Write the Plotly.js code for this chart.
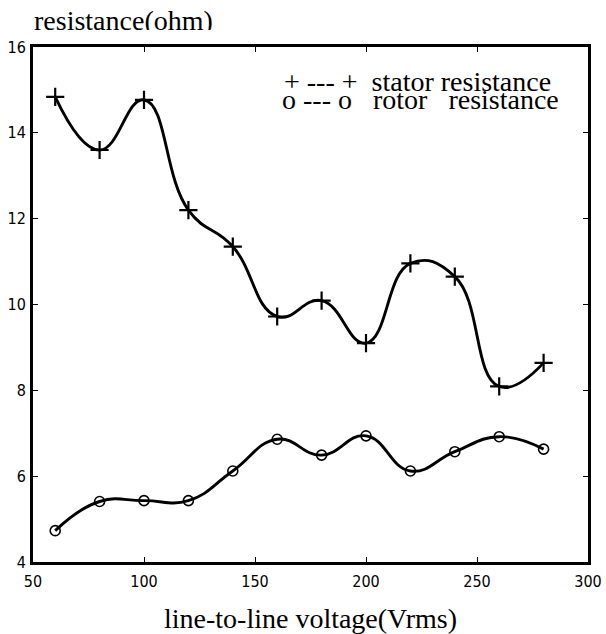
<!DOCTYPE html>
<html>
<head>
<meta charset="utf-8">
<script src="https://cdn.plot.ly/plotly-3.0.1.min.js"></script>
<style>
  html, body { margin: 0; padding: 0; background: #fff; }
  #chart { width: 606px; height: 634px; }
</style>
</head>
<body>
<div id="chart"></div>
<script>
// Data
const voltage = [60, 80, 100, 120, 140, 160, 180, 200, 220, 240, 260, 280];
const statorResistance = [14.84, 13.60, 14.77, 12.20, 11.35, 9.72, 10.09, 9.10, 10.96, 10.65, 8.09, 8.64];
const rotorResistance = [4.73, 5.41, 5.43, 5.43, 6.12, 6.86, 6.49, 6.94, 6.12, 6.57, 6.92, 6.63];
const xTicks = [50, 100, 150, 200, 250, 300];
const yTicks = [4, 6, 8, 10, 12, 14, 16];

const serif = 'Liberation Serif, Times New Roman, serif';
const narrow = 'Liberation Sans Narrow, DejaVu Sans Condensed, Arial, sans-serif';

const traces = [
  {
    x: voltage, y: statorResistance, type: 'scatter', mode: 'lines+markers',
    name: 'stator resistance',
    line: { color: '#000', width: 2.9, shape: 'spline', smoothing: 1.3 },
    marker: { symbol: 'cross-thin-open', size: 13, color: '#000', line: { color: '#000', width: 2.2 } }
  },
  {
    x: voltage, y: rotorResistance, type: 'scatter', mode: 'lines+markers',
    name: 'rotor resistance',
    line: { color: '#000', width: 2.9, shape: 'spline', smoothing: 1.3 },
    marker: { symbol: 'circle-open', size: 10, color: '#000', line: { color: '#000', width: 1.6 } }
  }
];

const axisCommon = {
  showgrid: false, zeroline: false,
  showline: true, linecolor: '#000', linewidth: 3,
  mirror: 'ticks', ticks: 'inside', ticklen: 5, tickwidth: 1, tickcolor: '#000',
  tickfont: { family: narrow, size: 16, color: '#000' }
};

const layout = {
  width: 606, height: 634,
  margin: { l: 33, r: 18, t: 47, b: 72 },
  paper_bgcolor: '#fff', plot_bgcolor: '#fff',
  showlegend: false,
  xaxis: Object.assign({}, axisCommon, {
    range: [50, 300], tickvals: xTicks, ticktext: xTicks.map(String),
    ticklabelstandoff: 3,
    title: { text: 'line-to-line voltage(Vrms)', font: { family: serif, size: 28, color: '#000' }, standoff: 21 }
  }),
  yaxis: Object.assign({}, axisCommon, {
    range: [4, 16], tickvals: yTicks, ticktext: yTicks.map(String),
    ticklabelstandoff: 1
  }),
  annotations: [
    { text: 'resistance(ohm)', xref: 'paper', yref: 'paper', x: 0, y: 1.0311,
      xanchor: 'left', yanchor: 'bottom', valign: 'top', height: 25, borderpad: 0,
      showarrow: false,
      font: { family: serif, size: 28, color: '#000' } },
    { text: '+ --- +\u00a0 stator resistance', xref: 'paper', yref: 'paper', x: 0.4505, y: 0.9650,
      xanchor: 'left', yanchor: 'top', valign: 'top', height: 25, borderpad: 0, showarrow: false,
      font: { family: serif, size: 28, color: '#000' } },
    { text: 'o --- o\u00a0\u00a0 rotor\u00a0\u00a0 resistance', xref: 'paper', yref: 'paper', x: 0.447, y: 0.9165,
      xanchor: 'left', yanchor: 'top', valign: 'bottom', height: 24, borderpad: 0, showarrow: false,
      font: { family: serif, size: 28, color: '#000' } }
  ]
};

Plotly.newPlot('chart', traces, layout, { displayModeBar: false, staticPlot: true });
</script>
</body>
</html>
